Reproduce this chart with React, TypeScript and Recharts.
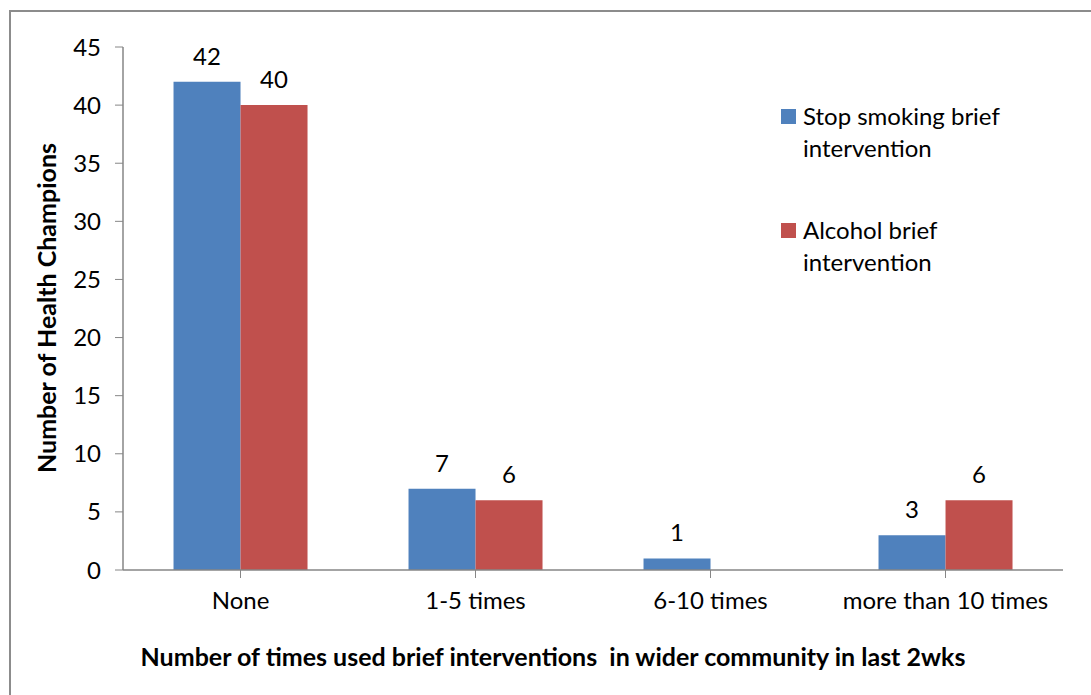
import React from "react";
import { BarChart, Bar, XAxis, YAxis, LabelList } from "recharts";

const categories = ["None", "1-5 times", "6-10 times", "more than 10 times"];
const smoking = [42, 7, 1, 3];
const alcohol = [40, 6, 0, 6];
const yTicks = [0, 5, 10, 15, 20, 25, 30, 35, 40, 45];

const seriesNames = ["Stop smoking brief intervention", "Alcohol brief intervention"];
const legendLines = [
  ["Stop smoking brief", "intervention"],
  ["Alcohol brief", "intervention"],
];
const colors = ["#4F81BD", "#C0504D"];

const data = categories.map((c, i) => ({ name: c, smoking: smoking[i], alcohol: alcohol[i] }));

const FONT = "Lato, 'Open Sans', sans-serif";
const FS = 24;

const hideZero = (v: any) => (v === 0 ? "" : v);

export default function App() {
  return (
    <div style={{ position: "absolute", left: 0, top: 0, width: 1091, height: 695, overflow: "hidden", background: "#fff" }}>
      <div
        style={{
          position: "absolute",
          left: 9,
          top: 10,
          width: 1200,
          height: 800,
          border: "2px solid #8C8C8C",
          boxSizing: "border-box",
        }}
      />
      <div style={{ position: "absolute", left: 0, top: 0 }}>
        <BarChart
          width={1091}
          height={695}
          data={data}
          margin={{ top: 47, right: 28, bottom: 85, left: 63 }}
          barCategoryGap="21.5%"
          barGap={0}
        >
          <XAxis
            dataKey="name"
            tickLine={{ stroke: "#868686" }}
            axisLine={{ stroke: "#868686", strokeWidth: 1.5 }}
            tickSize={8}
            tickMargin={14}
            height={40}
            tick={{ fill: "#000", fontSize: FS, fontFamily: FONT }}
            interval={0}
          />
          <YAxis
            domain={[0, 45]}
            ticks={yTicks}
            width={60}
            tickLine={{ stroke: "#868686" }}
            axisLine={{ stroke: "#868686", strokeWidth: 1.5 }}
            tickSize={8}
            tickMargin={14}
            tick={{ fill: "#000", fontSize: FS, fontFamily: FONT }}
            interval={0}
          />
          <Bar dataKey="smoking" name={seriesNames[0]} fill={colors[0]} isAnimationActive={false}>
            <LabelList dataKey="smoking" position="top" offset={17} formatter={hideZero} style={{ fill: "#000", fontSize: FS, fontFamily: FONT }} />
          </Bar>
          <Bar dataKey="alcohol" name={seriesNames[1]} fill={colors[1]} isAnimationActive={false}>
            <LabelList dataKey="alcohol" position="top" offset={17} formatter={hideZero} style={{ fill: "#000", fontSize: FS, fontFamily: FONT }} />
          </Bar>
        </BarChart>
      </div>
      <div
        style={{
          position: "absolute",
          left: 781,
          top: 100,
          fontFamily: FONT,
          fontSize: FS,
          color: "#000",
          lineHeight: "32px",
        }}
      >
        {legendLines.map((lines, i) => (
          <div key={i} style={{ display: "flex", alignItems: "flex-start", marginBottom: i === 0 ? 50 : 0 }}>
            <div style={{ width: 15, height: 15, background: colors[i], marginTop: 9, marginRight: 7 }} />
            <div>
              <div>{lines[0]}</div>
              <div>{lines[1]}</div>
            </div>
          </div>
        ))}
      </div>
      <div
        style={{
          position: "absolute",
          left: 46,
          top: 308,
          transform: "translate(-50%, -50%) rotate(-90deg)",
          whiteSpace: "nowrap",
          fontFamily: FONT,
          fontWeight: "bold",
          fontSize: 25,
          color: "#000",
        }}
      >
        Number of Health Champions
      </div>
      <div
        style={{
          position: "absolute",
          left: 553,
          top: 656,
          transform: "translate(-50%, -50%)",
          whiteSpace: "pre",
          fontFamily: FONT,
          fontWeight: "bold",
          fontSize: 25,
          color: "#000",
        }}
      >
        {"Number of times used brief interventions  in wider community in last 2wks"}
      </div>
    </div>
  );
}
